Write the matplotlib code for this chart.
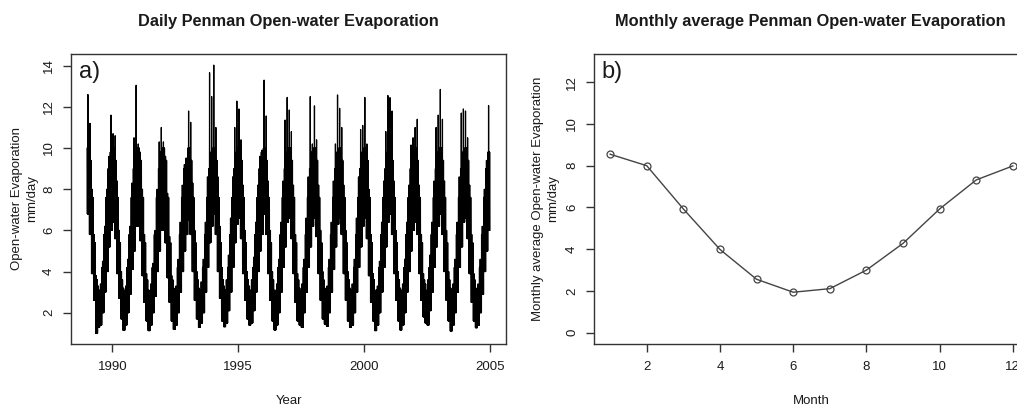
import numpy as np
import matplotlib
matplotlib.use("Agg")
import matplotlib.pyplot as plt

plt.rcParams['font.family'] = ['Liberation Sans', 'DejaVu Sans']

# ---------------- data ----------------
years = list(range(1989, 2005))

# per-month highest spike of the daily series (mm/day), Jan..Dec
daily_upper = [
    [12.6, 11.2, 8.0, 5.8, 3.8, 3.3, 3.4, 4.5, 6.2, 8.0, 9.6, 11.6],     # 1989
    [10.7, 10.6, 8.4, 6.0, 4.0, 3.2, 3.3, 4.6, 6.2, 8.3, 10.5, 13.05],   # 1990
    [10.2, 9.8, 8.0, 5.8, 3.9, 3.1, 3.4, 4.4, 6.0, 8.0, 10.3, 11.0],     # 1991
    [10.3, 9.6, 7.8, 5.7, 3.8, 3.2, 3.3, 4.6, 6.4, 8.2, 9.2, 9.5],       # 1992
    [11.8, 11.25, 8.3, 6.0, 4.0, 3.2, 3.5, 4.6, 6.4, 8.6, 13.66, 12.5],  # 1993
    [14.03, 11.0, 8.6, 6.2, 4.2, 3.3, 3.6, 4.8, 6.6, 8.6, 11.0, 12.28],  # 1994
    [11.9, 10.4, 8.2, 6.0, 4.0, 3.3, 3.6, 4.7, 6.4, 8.2, 9.6, 9.9],      # 1995
    [13.3, 11.56, 8.4, 6.0, 4.0, 3.1, 3.4, 4.6, 6.4, 8.4, 11.36, 12.46], # 1996
    [11.85, 10.8, 8.2, 5.8, 3.9, 3.2, 3.4, 4.6, 6.6, 8.6, 12.5, 10.2],   # 1997
    [12.05, 10.4, 8.2, 6.0, 4.0, 3.2, 3.3, 4.6, 6.4, 8.4, 10.2, 12.58],  # 1998
    [11.93, 11.0, 8.2, 6.0, 4.0, 3.2, 3.4, 4.6, 6.6, 8.6, 10.9, 11.1],   # 1999
    [12.46, 10.2, 8.0, 5.8, 3.9, 3.1, 3.3, 4.5, 6.4, 8.4, 10.8, 12.55],  # 2000
    [12.45, 11.8, 8.4, 6.0, 4.0, 3.2, 3.4, 4.6, 6.4, 8.2, 10.15, 10.5],  # 2001
    [11.0, 11.4, 8.2, 5.8, 3.9, 3.4, 3.6, 4.8, 6.4, 8.4, 11.0, 11.6],    # 2002
    [12.85, 11.4, 8.4, 6.0, 4.0, 3.2, 3.4, 4.6, 6.4, 8.6, 11.7, 11.9],   # 2003
    [11.8, 10.5, 8.2, 5.8, 3.9, 3.2, 3.4, 4.6, 6.2, 8.0, 9.4, 12.06],    # 2004
]
# per-month lowest value of the daily series (mm/day)
daily_lower = [
    [6.8, 5.8, 3.9, 2.6, 1.0, 1.3, 1.4, 2.0, 3.0, 4.0, 5.2, 6.0],
    [6.4, 5.6, 3.9, 2.7, 1.7, 1.15, 1.4, 2.0, 2.9, 4.1, 5.0, 6.2],
    [6.2, 5.5, 3.8, 2.5, 1.6, 1.13, 1.4, 2.0, 2.8, 4.0, 5.0, 6.0],
    [6.0, 5.4, 3.7, 2.5, 1.6, 1.19, 1.4, 2.0, 3.0, 4.0, 5.0, 5.8],
    [6.5, 5.8, 4.0, 2.6, 1.7, 1.29, 1.5, 2.0, 3.0, 4.2, 5.4, 6.2],
    [6.8, 5.8, 4.0, 2.7, 1.6, 1.32, 1.5, 2.1, 3.0, 4.2, 5.4, 6.3],
    [6.6, 5.6, 3.9, 2.6, 1.7, 1.4, 1.5, 2.1, 3.0, 4.0, 5.0, 5.8],
    [6.8, 5.8, 3.9, 2.6, 1.6, 1.16, 1.4, 2.0, 3.0, 4.2, 5.2, 6.4],
    [6.6, 5.6, 3.9, 2.5, 1.6, 1.4, 1.29, 2.0, 3.0, 4.2, 5.2, 6.2],
    [6.6, 5.7, 3.9, 2.6, 1.7, 1.45, 1.35, 2.0, 3.0, 4.1, 5.2, 6.3],
    [6.6, 5.8, 3.9, 2.6, 1.6, 1.29, 1.4, 2.0, 3.0, 4.2, 5.2, 6.2],
    [6.6, 5.6, 3.8, 2.5, 1.6, 1.13, 1.4, 2.0, 3.0, 4.2, 5.2, 6.4],
    [6.8, 5.8, 3.9, 2.6, 1.6, 1.16, 1.4, 2.0, 3.0, 4.0, 5.0, 6.0],
    [6.4, 5.8, 3.9, 2.6, 1.8, 1.5, 1.4, 2.1, 3.0, 4.2, 5.2, 6.2],
    [6.8, 5.8, 4.0, 2.6, 1.6, 1.11, 1.4, 2.0, 3.0, 4.2, 5.2, 6.4],
    [6.6, 5.6, 3.9, 2.5, 1.6, 1.27, 1.4, 2.0, 2.9, 4.0, 5.0, 6.0],
]
# upper edge of the dense black core, per calendar month
core_upper = [10.0, 9.4, 7.6, 5.4, 3.6, 2.9, 3.1, 4.2, 5.8, 7.6, 9.0, 9.8]

months = list(range(1, 13))
monthly_avg = [8.55, 8.0, 5.93, 3.99, 2.56, 1.94, 2.11, 3.0, 4.28, 5.93, 7.32, 7.99]

year_ticks = [1990, 1995, 2000, 2005]
month_ticks = [2, 4, 6, 8, 10, 12]

# ---------------- build the daily trace ----------------
# each month: the trace swings between the lower edge and the core top,
# with one swing reaching the month's highest spike
xs, ys = [], []
swings = 6
for i, yr in enumerate(years):
    for m in range(12):
        base = yr + m / 12.0
        top_core = min(core_upper[m], daily_upper[i][m])
        for k in range(swings):
            top = daily_upper[i][m] if k == 2 else top_core
            xs += [base + (k + 0.25) / (12 * swings), base + (k + 0.75) / (12 * swings)]
            ys += [top, daily_lower[i][m]]

W, H = 1017, 408
fig = plt.figure(figsize=(W / 100, H / 100), dpi=100)
ax1 = fig.add_axes([71 / W, 1 - 344 / H, 435 / W, 290 / H])
ax2 = fig.add_axes([594 / W, 1 - 344 / H, 435 / W, 290 / H])

spine_col = '#333333'
txt_col = '#1a1a1a'

ax1.plot(xs, ys, color='black', lw=0.9)
ax1.set_xlim(1988.36, 2005.64)
ax1.set_ylim(0.48, 14.57)
ax1.set_xticks(year_ticks)
ax1.set_yticks([2, 4, 6, 8, 10, 12, 14])

ax2.plot(months, monthly_avg, color='#444444', lw=1.0, marker='o', ms=5,
         mfc='none', mec='#444444', mew=0.9)
ax2.set_xlim(0.56, 12.44)
ax2.set_ylim(-0.54, 13.35)
ax2.set_xticks(month_ticks)
ax2.set_yticks([0, 2, 4, 6, 8, 10, 12])

for ax in (ax1, ax2):
    for s in ax.spines.values():
        s.set_color(spine_col)
        s.set_linewidth(1.0)
    ax.tick_params(direction='out', length=5.5, width=1.0, color=spine_col,
                   labelsize=9.5, labelcolor=txt_col)
    ax.tick_params(axis='x', pad=7)
    ax.tick_params(axis='y', pad=6, labelrotation=90)
    for lab in ax.get_yticklabels():
        lab.set_va('center')

ax1.text(0.018, 0.975, 'a)', transform=ax1.transAxes, fontsize=17,
         ha='left', va='top', color=txt_col)
ax2.text(0.018, 0.975, 'b)', transform=ax2.transAxes, fontsize=17,
         ha='left', va='top', color=txt_col)

fig.text(288.5 / W, 1 - 21.5 / H, 'Daily Penman Open-water Evaporation',
         ha='center', va='center', fontsize=11.8, fontweight='bold', color=txt_col)
fig.text(810.5 / W, 1 - 21.5 / H, 'Monthly average Penman Open-water Evaporation',
         ha='center', va='center', fontsize=11.8, fontweight='bold', color=txt_col)

fig.text(288.5 / W, 1 - 401.5 / H, 'Year', ha='center', va='center',
         fontsize=9.5, color=txt_col)
fig.text(811.5 / W, 1 - 401.5 / H, 'Month', ha='center', va='center',
         fontsize=9.5, color=txt_col)

fig.text(24.5 / W, 1 - 199 / H, 'Open-water Evaporation\nmm/day', rotation=90,
         ha='center', va='center', fontsize=9.5, linespacing=1.35, color=txt_col)
fig.text(546 / W, 1 - 199 / H, 'Monthly average Open-water Evaporation\nmm/day',
         rotation=90, ha='center', va='center', fontsize=9.5, linespacing=1.35,
         color=txt_col)

fig.savefig('out.png', dpi=100)
